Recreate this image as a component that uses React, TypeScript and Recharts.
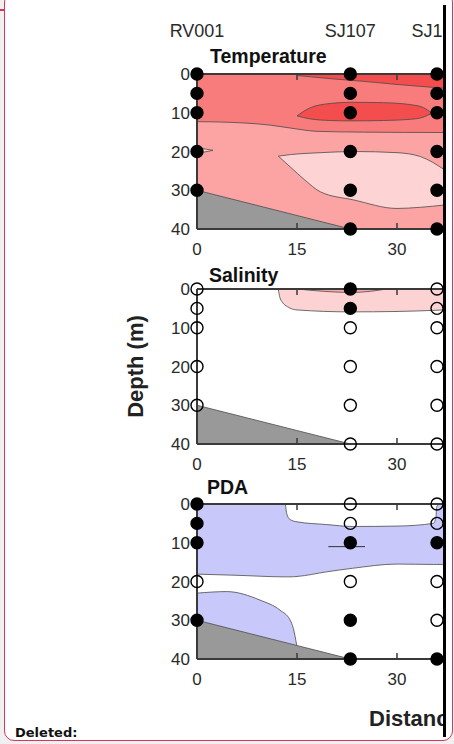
import React from 'react';
import { ComposedChart, Area, Scatter, Line, XAxis, YAxis } from 'recharts';

// stations along the transect
const stationKm = [0, 23, 36];
const stationNames = ['RV001', 'SJ107', 'SJ108'];
const sampleDepths = [
  [0, 5, 10, 20, 30],
  [0, 5, 10, 20, 30, 40],
  [0, 5, 10, 20, 30, 40],
];
// 1 = filled marker, 0 = open marker
const tempFlags = [[1, 1, 1, 1, 1], [1, 1, 1, 1, 1, 1], [1, 1, 1, 1, 1, 1]];
const salFlags = [[0, 0, 0, 0, 0], [1, 1, 0, 0, 0, 0], [0, 0, 0, 0, 0, 0]];
const pdaFlags = [[1, 1, 1, 0, 1], [0, 0, 1, 0, 1, 1], [0, 0, 1, 0, 0, 1]];

const depthTicks = [0, 10, 20, 30, 40];
const distTicks = [0, 15, 30];
const maxKm = 37.2;

// sea floor
const floorKm = [0, 23];
const floorTop = [30, 40];
const floorBot = [40, 40];

// temperature contours
const tFullKm = [0, maxKm];
const tFullTop = [0, 0];
const tFullBot = [40, 40];
const tWarmKm = [0, 3.7, 11, 15, 18, 25, maxKm];
const tWarmTop = [0, 0, 0, 0, 0, 0, 0];
const tWarmBot = [12.3, 12.4, 13.2, 14.2, 14.8, 15.0, 15.1];
const tSurfKm = [15, 20, 25, 30, maxKm];
const tSurfTop = [0, 0, 0, 0, 0];
const tSurfBot = [0.4, 1.2, 1.9, 2.7, 3.7];
const tLensKm = [15, 17, 20, 23, 28, 32, 34, 35.2];
const tLensTop = [10.8, 8.7, 7.6, 7.3, 7.4, 7.9, 8.7, 10.1];
const tLensBot = [10.8, 11.6, 12.0, 12.1, 12.0, 11.7, 11.1, 10.1];
const tCoolKm = [12.2, 14, 16.2, 18.5, 23.5, 30, 33.5, maxKm];
const tCoolTop = [21.2, 20.8, 20.5, 20.3, 20.0, 20.3, 21.3, 24.8];
const tCoolBot = [21.2, 24.0, 27.4, 30.4, 32.5, 34.7, 34.4, 33.8];
const tNotchKm = [0, 2.4];
const tNotchTop = [19.0, 19.7];
const tNotchBot = [20.5, 19.7];

// salinity contours
const sPinkKm = [12.2, 12.4, 12.8, 13.6, 15, 23, 30, maxKm];
const sPinkTop = [0, 0, 0, 0, 0, 0, 0, 0];
const sPinkBot = [0.1, 2.0, 3.4, 4.6, 5.4, 5.9, 5.8, 5.4];
const sCoreKm = [15, 19, 23, 26, 28.4];
const sCoreTop = [0, 0, 0, 0, 0];
const sCoreBot = [0, 0.6, 0.9, 0.6, 0];

// PDA contours
const pUpKm = [0, 6, 13.2, 13.45, 13.95, 15, 19.45, 23.3, 30, 35.45, 35.85, 35.95, 36.45, maxKm];
const pUpTop = [0, 0, 0, 2.4, 4, 4.6, 5.3, 5.8, 5.7, 5.0, 3.3, 0.7, 0, 0];
const pUpBot = [18.1, 18.4, 18.8, 18.8, 18.8, 18.7, 17.5, 16.6, 15.5, 15.6, 15.6, 15.6, 15.6, 15.7];
const pLowKm = [0, 4.45, 9.45, 12.45, 13.95, 14.45, 14.95];
const pLowTop = [23.0, 22.6, 24.8, 27.4, 29.9, 32.1, 36.4];
const pLowBot = [40, 40, 40, 40, 40, 40, 40];
const pMarkKm = [19.7, 25.2];
const pMarkDepth = [11, 11];

const AXIS = '#3a3a3a';
const EDGE = '#4a4a4a';
const FONT = '"Liberation Sans", Arial, sans-serif';
const PLOT_H = 155;

const band = (km: number[], top: number[], bot: number[]) =>
  km.map((x, i) => ({ x, v: [top[i], bot[i]] }));

const samples = (flags: number[][]) =>
  stationKm.flatMap((x, s) =>
    sampleDepths[s].map((y, i) => ({ x, y, filled: flags[s][i] === 1 }))
  );

const stationLabels = stationKm.map((x, i) => ({ x, y: 0, name: stationNames[i] }));

type Band = { data: { x: number; v: number[] }[]; fill: string; linear?: boolean };

const Marker = (p: any) => (
  <circle
    cx={p.cx}
    cy={p.cy}
    r={6}
    fill={p.payload && p.payload.filled ? '#000' : 'none'}
    stroke="#000"
    strokeWidth={1.4}
  />
);

const StationLabel = (p: any) => (
  <text x={p.cx} y={p.cy - 37} textAnchor="middle" fontSize={18} fill="#2a2a2a">
    {p.payload.name}
  </text>
);

// tick label below the axis, plus inward marks on bottom and top frame
const BottomTick = (p: any) => (
  <g>
    {p.payload.value !== 0 && (
      <>
        <line x1={p.x} x2={p.x} y1={p.y} y2={p.y - 6} stroke={AXIS} strokeWidth={1.5} />
        <line x1={p.x} x2={p.x} y1={p.y - PLOT_H} y2={p.y - PLOT_H + 6} stroke={AXIS} strokeWidth={1.5} />
      </>
    )}
    <text x={p.x} y={p.y + 26} textAnchor="middle" fontSize={17} fill="#2a2a2a">
      {p.payload.value}
    </text>
  </g>
);

function Panel({
  top,
  mt,
  bands,
  flags,
  withStations,
  mark,
}: {
  top: number;
  mt: number;
  bands: Band[];
  flags: number[][];
  withStations?: boolean;
  mark?: boolean;
}) {
  const h = mt + 1 + PLOT_H + 40;
  return (
    <div style={{ position: 'absolute', left: 0, top: top - mt - 1, width: 446, height: h, overflow: 'hidden' }}>
      <ComposedChart width={446} height={h} margin={{ top: mt, right: 1, left: 0, bottom: 0 }}>
        <XAxis
          xAxisId="b"
          dataKey="x"
          type="number"
          domain={[0, maxKm]}
          ticks={distTicks}
          interval={0}
          height={40}
          tickSize={0}
          tickMargin={0}
          tickLine={false}
          axisLine={{ stroke: AXIS, strokeWidth: 2 }}
          tick={BottomTick}
        />
        <XAxis
          xAxisId="t"
          dataKey="x"
          type="number"
          orientation="top"
          domain={[0, maxKm]}
          height={1}
          tick={false}
          tickLine={false}
          axisLine={{ stroke: AXIS, strokeWidth: 2 }}
        />
        <YAxis
          type="number"
          reversed
          domain={[0, 40]}
          ticks={depthTicks}
          interval={0}
          width={197}
          tickSize={0}
          tickMargin={7}
          tickLine={false}
          axisLine={{ stroke: AXIS, strokeWidth: 2 }}
          tick={{ fontSize: 17, fill: '#2a2a2a' }}
        />
        {bands.map((b, i) => (
          <Area
            key={i}
            xAxisId="b"
            data={b.data}
            dataKey="v"
            type={b.linear ? 'linear' : 'monotone'}
            fill={b.fill}
            fillOpacity={1}
            stroke={EDGE}
            strokeWidth={0.8}
            dot={false}
            activeDot={false}
            isAnimationActive={false}
          />
        ))}
        <Area
          xAxisId="b"
          data={band(floorKm, floorTop, floorBot)}
          dataKey="v"
          type="linear"
          fill="#999999"
          fillOpacity={1}
          stroke={EDGE}
          strokeWidth={0.8}
          dot={false}
          activeDot={false}
          isAnimationActive={false}
        />
        {mark && (
          <Line
            xAxisId="b"
            data={pMarkKm.map((x, i) => ({ x, y: pMarkDepth[i] }))}
            dataKey="y"
            stroke="#333"
            strokeWidth={1}
            dot={false}
            activeDot={false}
            isAnimationActive={false}
          />
        )}
        <Scatter
          xAxisId="b"
          data={samples(flags)}
          dataKey="y"
          shape={Marker}
          isAnimationActive={false}
        />
        {withStations && (
          <Scatter
            xAxisId="b"
            data={stationLabels}
            dataKey="y"
            shape={StationLabel}
            isAnimationActive={false}
          />
        )}
      </ComposedChart>
    </div>
  );
}

const tempBands: Band[] = [
  { data: band(tFullKm, tFullTop, tFullBot), fill: '#fca4a4', linear: true },
  { data: band(tWarmKm, tWarmTop, tWarmBot), fill: '#f87c7c' },
  { data: band(tSurfKm, tSurfTop, tSurfBot), fill: '#f44d4d' },
  { data: band(tLensKm, tLensTop, tLensBot), fill: '#f44d4d' },
  { data: band(tCoolKm, tCoolTop, tCoolBot), fill: '#fdd3d3' },
  { data: band(tNotchKm, tNotchTop, tNotchBot), fill: '#fdd3d3', linear: true },
];
const salBands: Band[] = [
  { data: band(sPinkKm, sPinkTop, sPinkBot), fill: '#fdd2d2' },
  { data: band(sCoreKm, sCoreTop, sCoreBot), fill: '#f9a9a9' },
];
const pdaBands: Band[] = [
  { data: band(pUpKm, pUpTop, pUpBot), fill: '#c8c8fa' },
  { data: band(pLowKm, pLowTop, pLowBot), fill: '#c8c8fa' },
];

export default function App() {
  return (
    <div style={{ position: 'absolute', left: 0, top: 0, width: 454, height: 744, background: '#f0f0f0', overflow: 'hidden', fontFamily: FONT }}>
      <div style={{ position: 'absolute', left: 4, top: -8, width: 449, height: 749, boxSizing: 'border-box', border: '1.5px solid #d9345c', borderRadius: 10, background: '#fff' }} />
      <div style={{ position: 'absolute', left: 0, top: 9, width: 5, height: 1.5, background: '#d9345c' }} />

      <Panel top={74} mt={50} bands={tempBands} flags={tempFlags} withStations />
      <Panel top={289} mt={10} bands={salBands} flags={salFlags} />
      <Panel top={504} mt={10} bands={pdaBands} flags={pdaFlags} mark />

      <svg width={446} height={744} style={{ position: 'absolute', left: 0, top: 0, pointerEvents: 'none' }}>
        <g fontFamily={FONT} fontWeight="bold" fill="#111">
          <text x={210} y={63} fontSize={19.5}>Temperature</text>
          <text x={209} y={281.5} fontSize={19.5}>Salinity</text>
          <text x={207} y={493.5} fontSize={19.5}>PDA</text>
          <text transform="translate(143,366.5) rotate(-90)" textAnchor="middle" fontSize={22} fill="#222">
            Depth (m)
          </text>
          <text x={369} y={726} fontSize={22} fill="#222">Distance (km)</text>
        </g>
        <text x={15} y={737} fontFamily='"DejaVu Sans", Verdana, sans-serif' fontWeight="bold" fontSize={13} fill="#111">
          Deleted:
        </text>
      </svg>
      <div style={{ position: 'absolute', left: 443, top: 5, width: 3, height: 732, background: '#000' }} />
    </div>
  );
}
